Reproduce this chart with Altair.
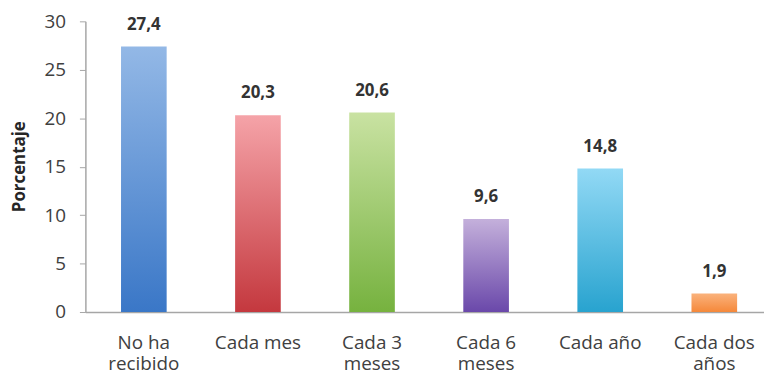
import altair as alt
import pandas as pd

categories = ["No ha|recibido", "Cada mes", "Cada 3|meses", "Cada 6|meses", "Cada año", "Cada dos|años"]
values = [27.4, 20.3, 20.6, 9.6, 14.8, 1.9]
y_ticks = [0, 5, 10, 15, 20, 25, 30]

top_colors = ["#93B8E6", "#F5A3A8", "#C9E2A2", "#C4B0DB", "#92D9F5", "#FAB27C"]
bottom_colors = ["#3A77C7", "#C4383E", "#76B23F", "#6A48AA", "#28A3CF", "#F5883A"]

df = pd.DataFrame({"cat": categories, "val": values})

FONT = "Open Sans"

x_enc = alt.X(
    "cat:N",
    sort=categories,
    scale=alt.Scale(domain=categories, paddingInner=0.6, paddingOuter=0.274, align=0.57),
    axis=alt.Axis(
        title=None,
        labelAngle=0,
        labelExpr="split(datum.label, '|')",
        labelFont=FONT,
        labelFontSize=19,
        labelLineHeight=21,
        labelColor="#404040",
        labelPadding=22,
        labelBaseline="top",
        ticks=False,
        domainColor="#A6A6A6",
        domainWidth=1.5,
    ),
)

y_enc = alt.Y(
    "val:Q",
    scale=alt.Scale(domain=[0, 30], nice=False),
    axis=alt.Axis(
        values=y_ticks,
        grid=False,
        title="Porcentaje",
        titleFont=FONT,
        titleFontSize=17,
        titleFontWeight="bold",
        titleColor="#262626",
        titleAngle=270,
        titleX=-66,
        titleY=146,
        titleAlign="center",
        titleBaseline="middle",
        labelFont=FONT,
        labelFontSize=19,
        labelColor="#404040",
        labelPadding=14,
        tickSize=6,
        tickColor="#A6A6A6",
        domainColor="#A6A6A6",
        domainWidth=1.5,
    ),
)

layers = []
for cat, top, bot in zip(categories, top_colors, bottom_colors):
    grad = alt.Gradient(
        gradient="linear",
        stops=[alt.GradientStop(offset=0, color=top), alt.GradientStop(offset=1, color=bot)],
        x1=0, x2=0, y1=0, y2=1,
    )
    layers.append(
        alt.Chart(df)
        .transform_filter(alt.datum.cat == cat)
        .mark_bar(fill=grad)
        .encode(x=x_enc, y=y_enc)
    )

text = (
    alt.Chart(df)
    .transform_calculate(lbl="replace(format(datum.val, '.1f'), '.', ',')")
    .mark_text(font=FONT, fontSize=17, fontWeight="bold", color="#333333", baseline="alphabetic", dy=-17)
    .encode(x=x_enc, y=y_enc, text="lbl:N")
)

chart = (
    alt.layer(*layers, text)
    .properties(
        width=684,
        height=293,
        autosize=alt.AutoSizeParams(type="none"),
        padding={"left": 78, "top": 12, "right": 0, "bottom": 59},
        background="white",
    )
    .configure_view(stroke=None)
)

chart.save("out.html", embed_options={"renderer": "svg", "actions": False})
